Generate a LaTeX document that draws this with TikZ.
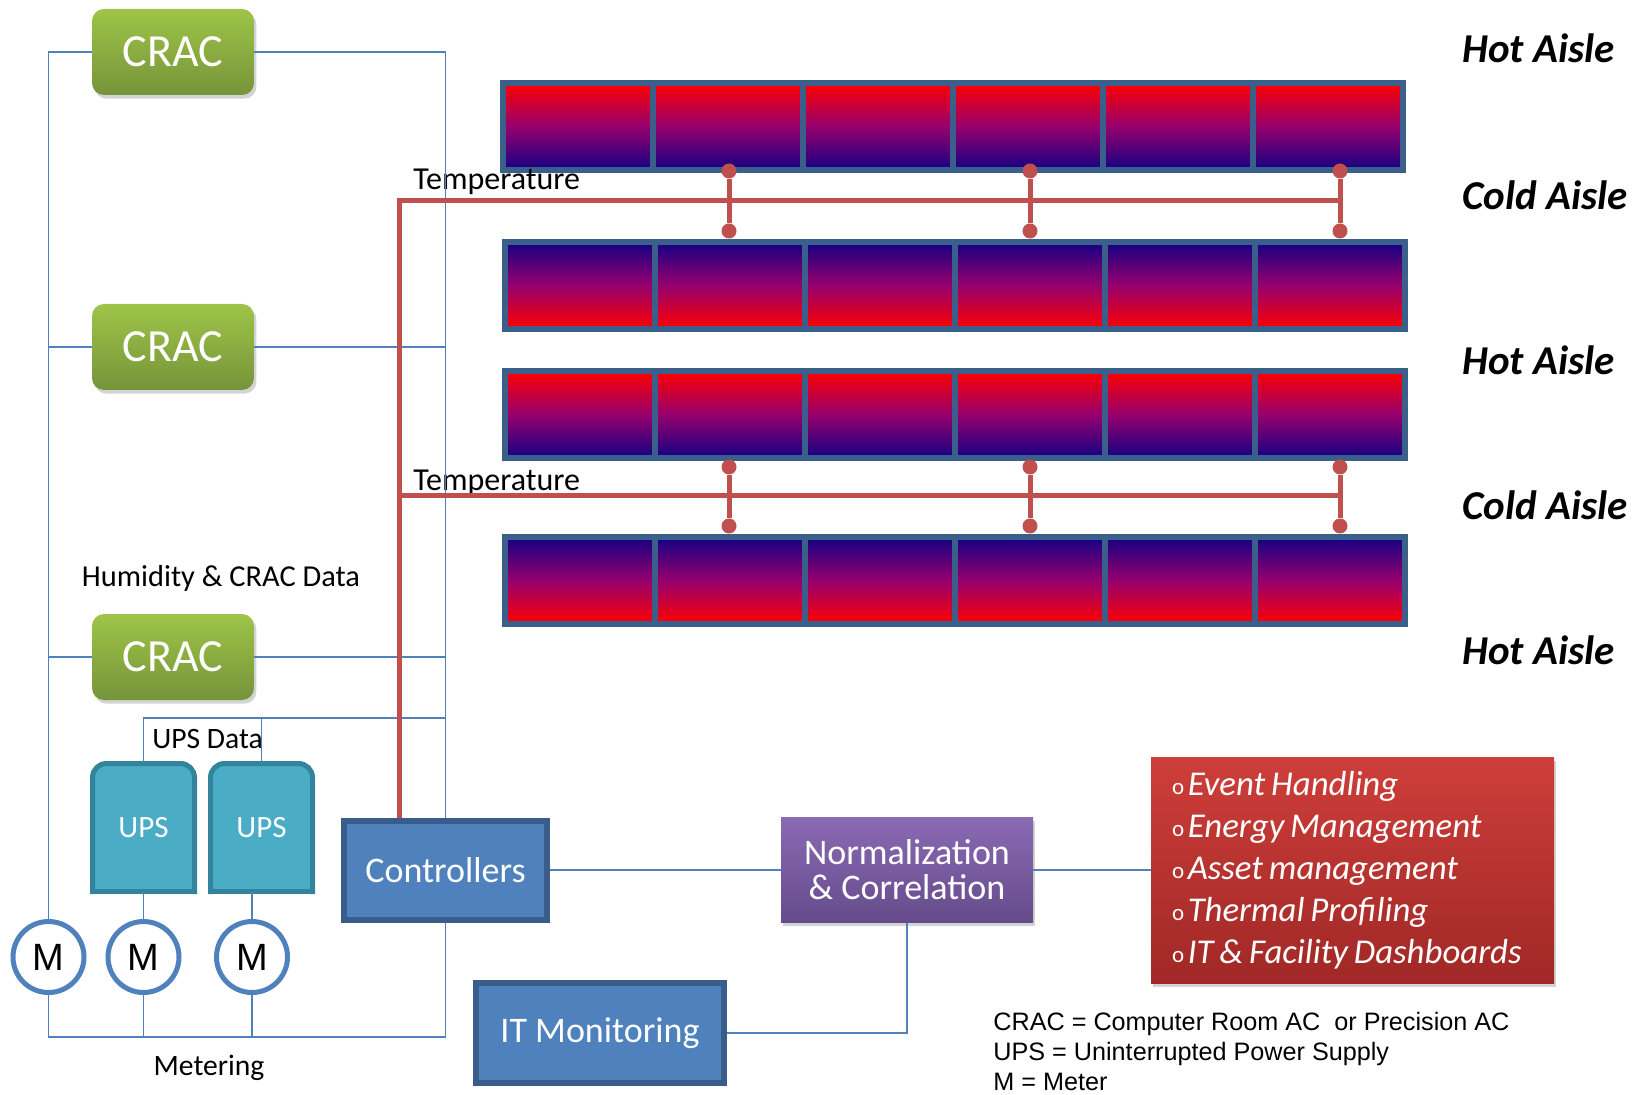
\documentclass[tikz,border=0pt]{standalone}
\usepackage{fontspec}
\setmainfont{Carlito}
\newfontfamily\arialfont{Liberation Sans}
\usepackage{tikz}
\usetikzlibrary{calc,shadows,backgrounds}

\definecolor{busblue}{RGB}{79,129,189}
\definecolor{boxedge}{RGB}{56,93,138}
\definecolor{cractop}{RGB}{158,196,72}
\definecolor{cracbot}{RGB}{118,148,58}
\definecolor{upsfill}{RGB}{75,172,198}
\definecolor{upsedge}{RGB}{49,132,155}
\definecolor{normtop}{RGB}{138,106,180}
\definecolor{normbot}{RGB}{101,75,139}
\definecolor{tasktop}{RGB}{206,62,58}
\definecolor{taskbot}{RGB}{160,40,38}
\definecolor{tempred}{RGB}{192,80,77}
\definecolor{rackedge}{RGB}{58,95,139}
\definecolor{rackred}{RGB}{255,0,0}
\definecolor{rackmid}{RGB}{150,0,110}
\definecolor{racknavy}{RGB}{20,0,130}

\newcommand\fsize[1]{\fontsize{#1}{#1}\selectfont}
\newcommand\bul{\raisebox{0.6pt}{\upshape\fontsize{11.5}{11.5}\selectfont o}\hspace{1.8pt}}
\newcommand\tightlist{\spaceskip=0.17em\relax\hyphenpenalty=10000\relax}
\def\rackrow[#1](#2,#3){%
	\draw[rack,#1] (#2,#3) rectangle ++(150,87);
	\draw[rack,#1] (#2+150,#3) rectangle ++(150,87);
	\draw[rack,#1] (#2+300,#3) rectangle ++(150,87);
	\draw[rack,#1] (#2+450,#3) rectangle ++(150,87);
	\draw[rack,#1] (#2+600,#3) rectangle ++(150,87);
	\draw[rack,#1] (#2+750,#3) rectangle ++(150,87);}

\tikzset{
	bus/.style={draw=busblue, line width=0.9pt},
	temp/.style={draw=tempred, line width=2.5pt},
	sensor/.style={circle, fill=tempred, inner sep=0pt, minimum size=7.5pt},
	crac/.style={rounded corners=6pt, top color=cractop, bottom color=cracbot, text=white,
		font=\fsize{23}, minimum width=81pt, minimum height=43pt, inner sep=0pt,
		drop shadow={opacity=0.35, shadow xshift=1.2pt, shadow yshift=-1.8pt}},
	ctrlbox/.style={fill=busblue, draw=boxedge, line width=3pt, text=white, font=\fsize{18}, inner sep=0pt},
	normbox/.style={top color=normtop, bottom color=normbot, text=white, align=center,
		font=\fontsize{18}{17.5}\selectfont, minimum width=126pt, minimum height=52.5pt, inner sep=0pt,
		drop shadow={opacity=0.35, shadow xshift=1.2pt, shadow yshift=-1.8pt}},
	taskbox/.style={top color=tasktop, bottom color=taskbot, text=white, align=left,
		font=\itshape\fontsize{17.4}{21}\selectfont,
		text width=180.5pt, inner xsep=10.5pt, minimum height=113pt,
		drop shadow={opacity=0.35, shadow xshift=1.2pt, shadow yshift=-1.8pt}},
	upsbox/.style={fill=upsfill, draw=upsedge, line width=2.5pt},
	upslabel/.style={text=white, font=\fsize{15.5}, minimum width=51pt, minimum height=64pt,
		inner sep=0pt, outer sep=0pt},
	meter/.style={circle, fill=white, draw=busblue, line width=2.5pt, minimum size=35.5pt,
		inner sep=0pt, font=\arialfont\fsize{19}},
	rack/.style={draw=rackedge, line width=3pt},
	hot/.style={top color=rackred, bottom color=racknavy, middle color=rackmid},
	cold/.style={top color=racknavy, bottom color=rackred, middle color=rackmid},
	aisle/.style={anchor=west, font=\bfseries\itshape\fsize{20.5}, inner sep=0pt},
	note/.style={inner sep=0pt},
}

\begin{document}
\begin{tikzpicture}[x=0.5pt, y=-0.5pt]
			%%%%% START %%%%%
			\useasboundingbox (0,0) rectangle (1641,1095);
			
			\rackrow[hot](503,83)
			\rackrow[cold](505,242)
			\rackrow[hot](505,371)
			\rackrow[cold](505,537)
			
			\node[aisle] (hot1) at (1462,48) {Hot Aisle};
			\node[aisle] (cold1) at (1462,195) {Cold Aisle};
			\node[aisle] (hot2) at (1462,360) {Hot Aisle};
			\node[aisle] (cold2) at (1462,505) {Cold Aisle};
			\node[aisle] (hot3) at (1462,650) {Hot Aisle};
			
			\node[crac] (crac1) at (173,52) {CRAC};
			\node[crac] (crac2) at (173,347) {CRAC};
			\node[crac] (crac3) at (173,657) {CRAC};
			
			\node[upslabel] (ups1) at (143.5,827.5) {UPS};
			\node[upslabel] (ups2) at (261.5,827.5) {UPS};
			\begin{scope}[on background layer]
				\filldraw[upsbox, rounded corners=7pt, line cap=rect] (ups1.south west) -- (ups1.north west) -- (ups1.north east) -- (ups1.south east);
				\draw[upsbox, line cap=rect] (ups1.south west) -- (ups1.south east);
				\filldraw[upsbox, rounded corners=7pt, line cap=rect] (ups2.south west) -- (ups2.north west) -- (ups2.north east) -- (ups2.south east);
				\draw[upsbox, line cap=rect] (ups2.south west) -- (ups2.south east);
			\end{scope}
			
			\node[meter] (m1) at (48.5,957) {M};
			\node[meter] (m2) at (143.5,957) {M};
			\node[meter] (m3) at (252,957) {M};
			
			\node[ctrlbox, minimum width=101.5pt, minimum height=49.5pt] (ctrl) at (445.5,870) {Controllers};
			\node[ctrlbox, minimum width=124pt, minimum height=50pt] (itmon) at (600,1033) {IT Monitoring};
			\node[normbox] (norm) at (907,870) {Normalization\\\& Correlation};
			\node[taskbox] (tasks) at (1352.5,870) {\tightlist\bul Event Handling\\\bul Energy Management\\\bul Asset management\\\bul Thermal Profiling\\\bul IT \& Facility Dashboards};
			
			\node[note, anchor=base west, font=\fsize{16}] (temp1) at (413,190) {Temperature};
			\node[note, anchor=base west, font=\fsize{16}] (temp2) at (413,491) {Temperature};
			\node[note, font=\fsize{15.2}] (hum) at (221,578) {Humidity \& CRAC Data};
			\node[note, anchor=west, font=\fsize{14.8}] (upsdata) at (152,739) {UPS Data};
			\node[note, font=\fsize{14.8}] (metering) at (209,1068) {Metering};
			\node[note, anchor=north west, align=left, font=\arialfont\fontsize{12.6}{15}\selectfont] (legend) at (993,1012) {CRAC = Computer Room AC\ \ or Precision AC\\UPS = Uninterrupted Power Supply\\M = Meter};
			
			% data lines
			\draw[bus] (crac1.west) -| (m1.north);
			\draw[bus] (crac2.west) -- (crac2.west -| m1.north);
			\draw[bus] (crac3.west) -- (crac3.west -| m1.north);
			\draw[bus] (crac1.east) -| (ctrl.north);
			\draw[bus] (crac2.east) -- (crac2.east -| ctrl.north);
			\draw[bus] (crac3.east) -- (crac3.east -| ctrl.north);
			
			\coordinate (upsjoin) at (445.5,718);
			\draw[bus] (ups1.north) |- (upsjoin);
			\draw[bus] (ups2.north) -- (ups2.north |- upsjoin);
			
			\coordinate (meterjoin) at (445.5,1037);
			\draw[bus] (m1.south) |- (meterjoin) -- (ctrl.south);
			\draw[bus] (m2.south) -- (m2.south |- meterjoin);
			\draw[bus] (m3.south) -- (m3.south |- meterjoin);
			\draw[bus] (m2.north) -- (m2.north |- ups1.south);
			\draw[bus] (m3.north) -- (m3.north |- ups2.south);
			
			\draw[bus] (ctrl.east) -- (norm.west);
			\draw[bus] (norm.east) -- (tasks.west);
			\draw[bus] (itmon.east) -| (norm.south);
			
			% temperature sensors
			\coordinate (tbend1) at (399,201);
			\coordinate (tbend2) at (399,496);
			\node[sensor] (a1) at (729,171) {};
			\node[sensor] (b1) at (729,231) {};
			\node[sensor] (a2) at (1030,171) {};
			\node[sensor] (b2) at (1030,231) {};
			\node[sensor] (a3) at (1340,171) {};
			\node[sensor] (b3) at (1340,231) {};
			\node[sensor] (c1) at (729,467) {};
			\node[sensor] (d1) at (729,526) {};
			\node[sensor] (c2) at (1030,467) {};
			\node[sensor] (d2) at (1030,526) {};
			\node[sensor] (c3) at (1340,467) {};
			\node[sensor] (d3) at (1340,526) {};
			
			\draw[temp] (ctrl.north -| tbend1) -- (tbend1) -- (tbend1 -| a3);
			\draw[temp] (tbend2) -- (tbend2 -| c3);
			\draw[temp] (a1) -- (b1);
			\draw[temp] (a2) -- (b2);
			\draw[temp] (a3) -- (b3);
			\draw[temp] (c1) -- (d1);
			\draw[temp] (c2) -- (d2);
			\draw[temp] (c3) -- (d3);
			
			%%%%% END %%%%%
\end{tikzpicture}
\end{document}
